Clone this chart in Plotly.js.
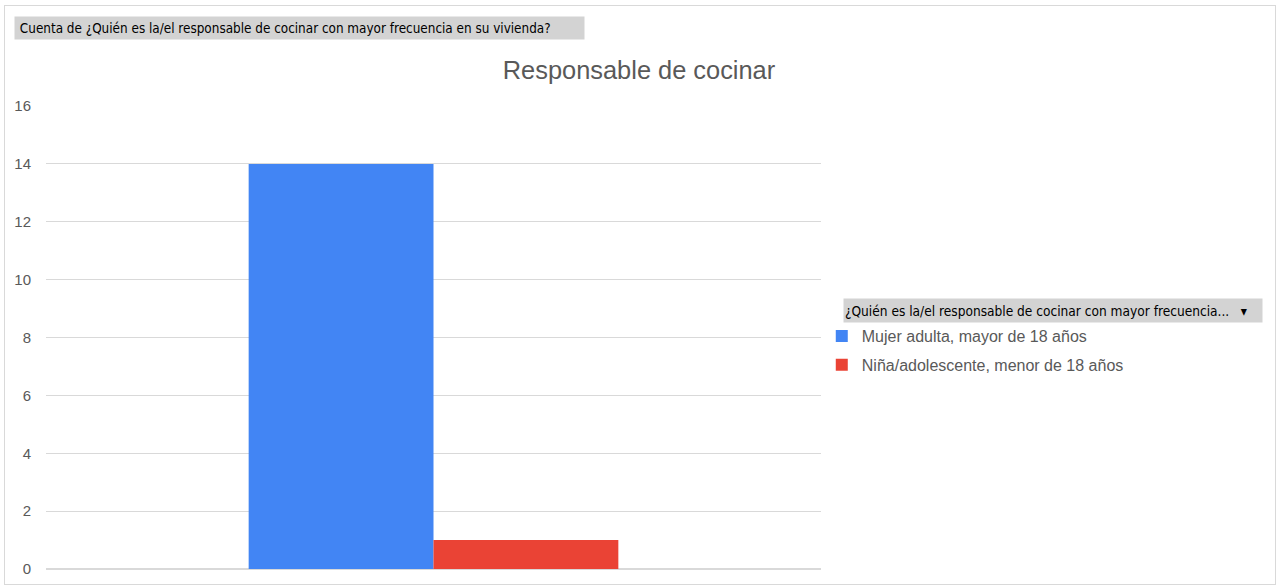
<!DOCTYPE html>
<html>
<head>
<meta charset="utf-8">
<script src="https://cdn.plot.ly/plotly-3.0.1.min.js"></script>
<style>
html,body{margin:0;padding:0;background:#fff;}
#chart{width:1278px;height:586px;}
#frame{position:absolute;left:4px;top:5px;width:1270px;height:578px;border:1px solid #d9d9d9;pointer-events:none;}
</style>
</head>
<body>
<div id="chart"></div>
<div id="frame"></div>
<script>
const category = ["Total"];
const seriesNames = ["Mujer adulta, mayor de 18 años", "Niña/adolescente, menor de 18 años"];
const seriesValues = [[14], [1]];
const seriesColors = ["#4285f4", "#ea4335"];
const chartTitle = "Responsable de cocinar";
const headerText = "Cuenta de ¿Quién es la/el responsable de cocinar con mayor frecuencia en su vivienda?";
const legendHeader = "¿Quién es la/el responsable de cocinar con mayor frecuencia...";
const yTicks = [0, 2, 4, 6, 8, 10, 12, 14, 16];

const traces = seriesNames.map((n, i) => ({
  type: "bar",
  name: n,
  x: category,
  y: seriesValues[i],
  marker: {color: seriesColors[i]},
  legendgroup: "g" + i,
  hoverinfo: "y+name"
}));

const layout = {
  width: 1278, height: 586,
  paper_bgcolor: "#ffffff", plot_bgcolor: "#ffffff",
  margin: {l: 46, r: 457, t: 106, b: 17},
  bargap: 0.523, bargroupgap: 0,
  barmode: "group",
  title: {text: chartTitle, x: 0.5, xref: "container", xanchor: "center", y: 0.881, yref: "container", yanchor: "middle",
          font: {family: "Liberation Sans, Arial, sans-serif", size: 25.4, color: "#595959"}},
  xaxis: {showticklabels: false, showgrid: false, zeroline: false, showline: false, ticks: ""},
  yaxis: {range: [0, 16], tickvals: yTicks, showgrid: true, gridcolor: "#d9d9d9", gridwidth: 1,
          zeroline: true, zerolinecolor: "#d9d9d9", zerolinewidth: 2, ticks: "", ticklabelstandoff: 14,
          tickfont: {family: "Liberation Sans, Arial, sans-serif", size: 15, color: "#595959"}},
  showlegend: true,
  legend: {x: 1.001, xanchor: "left", y: 0.54, yanchor: "top", traceorder: "grouped", tracegroupgap: 5,
           font: {family: "Liberation Sans, Arial, sans-serif", size: 16, color: "#595959"},
           bgcolor: "rgba(0,0,0,0)", itemwidth: 30},
  annotations: [
    {text: "\u00A0" + headerText, xref: "paper", yref: "paper", x: -0.0413, y: 1.1685, xanchor: "left", yanchor: "middle",
     showarrow: false, bgcolor: "#d3d3d3", width: 567, height: 20, align: "left", borderpad: 1,
     font: {family: "DejaVu Sans Condensed, Liberation Sans, sans-serif", size: 13.4, color: "#000"}},
    {text: legendHeader + "   \u25BE", xref: "paper", yref: "paper", x: 1.0287, y: 0.559, xanchor: "left", yanchor: "middle",
     showarrow: false, bgcolor: "#d3d3d3", width: 416, height: 21, align: "left", borderpad: 1,
     font: {family: "DejaVu Sans Condensed, Liberation Sans, sans-serif", size: 13.6, color: "#000"}}
  ]
};

Plotly.newPlot("chart", traces, layout, {displayModeBar: false, staticPlot: true});
</script>
</body>
</html>
